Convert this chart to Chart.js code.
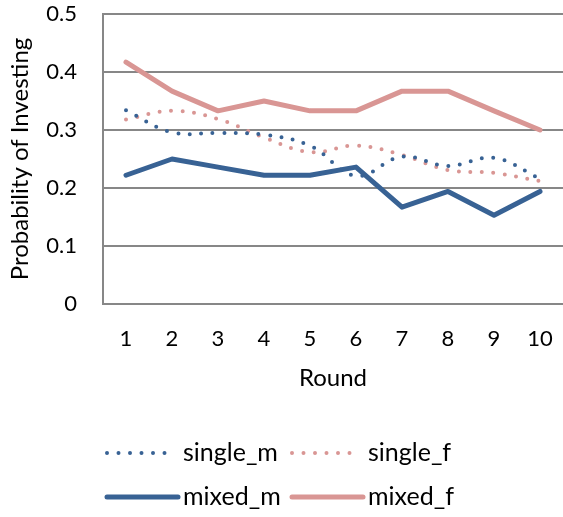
<!DOCTYPE html>
<html>
<head>
<meta charset="utf-8">
<script src="https://cdn.jsdelivr.net/npm/chart.js@4"></script>
<style>
  html, body { margin: 0; padding: 0; background: #fff; }
  #wrap { width: 563px; height: 517px; }
</style>
</head>
<body>
<div id="wrap"><canvas id="round-chart"></canvas></div>
<script>
// data
const rounds = ["1", "2", "3", "4", "5", "6", "7", "8", "9", "10"];
const singleM = [0.334, 0.296, 0.295, 0.292, 0.273, 0.221, 0.254, 0.238, 0.252, 0.216];
const singleF = [0.318, 0.333, 0.319, 0.287, 0.262, 0.273, 0.257, 0.231, 0.226, 0.212];
const mixedM = [0.222, 0.25, 0.236, 0.222, 0.222, 0.236, 0.167, 0.194, 0.153, 0.194];
const mixedF = [0.417, 0.367, 0.333, 0.35, 0.333, 0.333, 0.367, 0.367, 0.333, 0.3];

const blue = "#386294";
const pink = "#d99694";
const gridGray = "#878787";
const fontFamily = "Lato, 'Open Sans', sans-serif";

// legend drawn in two rows like the original
const legendPlugin = {
  id: "gridLegend",
  afterDraw(chart) {
    const ctx = chart.ctx;
    const ds = chart.data.datasets;
    const cells = [
      { x: 107, w: 62, tx: 183, y: 453 },
      { x: 292, w: 62, tx: 368, y: 453 },
      { x: 107, w: 71, tx: 183, y: 497 },
      { x: 292, w: 71, tx: 368, y: 497 },
    ];
    ctx.save();
    ds.forEach((d, i) => {
      const c = cells[i];
      ctx.strokeStyle = d.borderColor;
      ctx.lineWidth = d.borderWidth;
      ctx.lineCap = d.borderCapStyle || "butt";
      ctx.setLineDash(d.borderDash || []);
      ctx.beginPath();
      ctx.moveTo(c.x, c.y);
      ctx.lineTo(c.x + c.w, c.y);
      ctx.stroke();
      ctx.setLineDash([]);
      ctx.fillStyle = "#000";
      ctx.font = "25px " + fontFamily;
      ctx.textBaseline = "middle";
      ctx.textAlign = "left";
      ctx.fillText(d.label, c.tx, c.y);
    });
    ctx.restore();
  },
};

const ctx = document.getElementById("round-chart").getContext("2d");

new Chart(ctx, {
  type: "line",
  data: {
    labels: rounds,
    datasets: [
      {
        label: "single_m",
        data: singleM,
        borderColor: blue,
        borderWidth: 4,
        borderDash: [0, 11.5],
        borderCapStyle: "round",
        tension: 0.4,
        pointRadius: 0,
        fill: false,
      },
      {
        label: "single_f",
        data: singleF,
        borderColor: pink,
        borderWidth: 4,
        borderDash: [0, 11.5],
        borderCapStyle: "round",
        tension: 0.4,
        pointRadius: 0,
        fill: false,
      },
      {
        label: "mixed_m",
        data: mixedM,
        borderColor: blue,
        borderWidth: 5,
        borderCapStyle: "round",
        borderJoinStyle: "round",
        tension: 0,
        pointRadius: 0,
        fill: false,
      },
      {
        label: "mixed_f",
        data: mixedF,
        borderColor: pink,
        borderWidth: 5,
        borderCapStyle: "round",
        borderJoinStyle: "round",
        tension: 0,
        pointRadius: 0,
        fill: false,
      },
    ],
  },
  options: {
    responsive: true,
    maintainAspectRatio: false,
    animation: false,
    layout: { padding: { top: 14, left: 0, right: 0, bottom: 123 } },
    plugins: {
      legend: { display: false },
      tooltip: { enabled: false },
    },
    scales: {
      x: {
        offset: true,
        grid: { display: false, drawTicks: false },
        border: { display: false },
        ticks: {
          color: "#000",
          padding: 22,
          maxRotation: 0,
          autoSkip: false,
          font: { family: fontFamily, size: 22 },
        },
        title: {
          display: true,
          text: "Round",
          color: "#000",
          padding: { top: 0, bottom: 1 },
          font: { family: fontFamily, size: 24 },
        },
        afterFit(scale) {
          scale.height = 90;
          scale.paddingLeft = 0;
          scale.paddingRight = 0;
        },
      },
      y: {
        min: 0,
        max: 0.5,
        ticks: {
          stepSize: 0.1,
          color: "#000",
          padding: 26,
          font: { family: fontFamily, size: 22 },
        },
        grid: { color: gridGray, lineWidth: 2, drawTicks: false },
        border: { display: true, color: gridGray, width: 2 },
        title: {
          display: true,
          text: "Probability of Investing",
          color: "#000",
          padding: { top: 6, bottom: 0 },
          font: { family: fontFamily, size: 24 },
        },
        afterFit(scale) {
          scale.width = 103;
          scale.paddingTop = 0;
          scale.paddingBottom = 0;
        },
      },
    },
  },
  plugins: [legendPlugin],
});
</script>
</body>
</html>
